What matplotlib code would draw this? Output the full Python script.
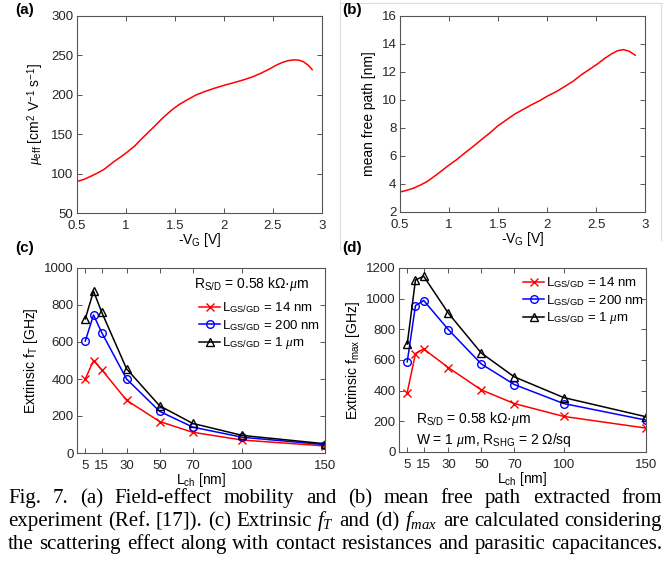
import numpy as np
import matplotlib
matplotlib.use("Agg")
import matplotlib.pyplot as plt
from matplotlib.lines import Line2D

# Fig. 7 recreation: mobility / mean free path (top), fT / fmax vs Lch (bottom)

plt.rcParams['font.family'] = ['Liberation Sans', 'DejaVu Sans']
plt.rcParams['mathtext.fontset'] = 'custom'
plt.rcParams['mathtext.rm'] = 'Liberation Sans'
plt.rcParams['mathtext.sf'] = 'Liberation Sans'
plt.rcParams['mathtext.it'] = 'Liberation Serif:italic'

# (a) field-effect mobility
vg_a = [0.5, 0.57, 0.64, 0.71, 0.78, 0.88, 0.95, 1.02, 1.09, 1.15, 1.22, 1.29,
        1.37, 1.46, 1.54, 1.63, 1.71, 1.8, 1.9, 2.0, 2.1, 2.2, 2.29, 2.37,
        2.46, 2.54, 2.6, 2.66, 2.72, 2.77, 2.81, 2.86, 2.9]
mu_eff = [90, 92.6, 96.5, 100.8, 105.7, 115.5, 121.5, 128, 135.2, 143, 151.5, 160,
          170, 180, 187.5, 194, 199.5, 204, 208.2, 212, 215.4, 219, 222.7, 227,
          232.5, 238, 241.3, 243.5, 244.4, 243.8, 242, 237.5, 232]

# (b) mean free path
vg_b = [0.5, 0.57, 0.64, 0.71, 0.78, 0.88, 0.99, 1.08, 1.16, 1.25, 1.33, 1.42,
        1.5, 1.59, 1.67, 1.76, 1.84, 1.93, 2.01, 2.1, 2.18, 2.27, 2.35, 2.44,
        2.52, 2.59, 2.66, 2.72, 2.78, 2.84, 2.9]
mfp = [3.43, 3.55, 3.71, 3.93, 4.19, 4.7, 5.3, 5.75, 6.21, 6.7, 7.16, 7.67,
       8.16, 8.6, 8.99, 9.34, 9.65, 9.97, 10.3, 10.62, 10.96, 11.36, 11.8, 12.22,
       12.6, 12.98, 13.3, 13.52, 13.6, 13.48, 13.2]

# (c), (d) channel length sweep
Lch = [5, 10, 15, 30, 50, 70, 100, 150]
ft_14nm = [400, 500, 450, 285, 170, 112, 70, 38]
ft_200nm = [605, 746, 650, 400, 225, 140, 85, 45]
ft_1um = [725, 875, 760, 455, 255, 160, 95, 50]
fmax_14nm = [388, 642, 672, 550, 405, 316, 232, 156]
fmax_200nm = [588, 955, 988, 798, 574, 440, 316, 208]
fmax_1um = [704, 1122, 1146, 905, 645, 490, 355, 230]
lch_ticks = [5, 15, 30, 50, 70, 100, 150]

series_names = [r'L$_{\mathrm{GS/GD}}$ = 14 nm',
                r'L$_{\mathrm{GS/GD}}$ = 200 nm',
                r'L$_{\mathrm{GS/GD}}$ = 1 $\mu$m']

caption_lines = [
    "Fig. 7. (a) Field-effect mobility and (b) mean free path extracted from",
    "experiment (Ref. [17]). (c) Extrinsic $f_T$ and (d) $f_{max}$ are calculated considering",
    "the scattering effect along with contact resistances and parasitic capacitances.",
]

W, H = 667, 565
fig = plt.figure(figsize=(W / 100, H / 100), dpi=100)


def px_axes(l, t, r, b):
    return fig.add_axes([l / W, 1 - b / H, (r - l) / W, (b - t) / H])


def matlab_style(ax):
    for s in ax.spines.values():
        s.set_color('#555555')
        s.set_linewidth(0.8)
    ax.tick_params(direction='in', length=3.5, width=0.7, color='#555555',
                   top=True, right=True, labelsize=9.5, labelcolor='#262626')
    ax.tick_params(axis='x', pad=5)
    ax.tick_params(axis='y', pad=2.5)


ax_a = px_axes(77, 16, 322, 213)
ax_b = px_axes(400, 16, 645, 212)
ax_c = px_axes(77, 268, 325, 453)
ax_d = px_axes(399, 268, 646, 452)

red, blue, black = '#ff0000', '#0000ff', '#000000'

ax_a.plot(vg_a, mu_eff, color=red, lw=1.1)
ax_a.set_xlim(0.5, 3)
ax_a.set_ylim(50, 300)
ax_a.set_xticks([0.5, 1, 1.5, 2, 2.5, 3])
ax_a.set_xticklabels(['0.5', '1', '1.5', '2', '2.5', '3'])
ax_a.set_ylabel(r'$\mu_{\mathrm{eff}}$ [cm$^2$ V$^{-1}$ s$^{-1}$]', fontsize=10, labelpad=4)
ax_a.set_xlabel(r'-V$_{\mathrm{G}}$ [V]', fontsize=10, labelpad=-1)

ax_b.plot(vg_b, mfp, color=red, lw=1.1)
ax_b.set_xlim(0.5, 3)
ax_b.set_ylim(2, 16)
ax_b.set_xticks([0.5, 1, 1.5, 2, 2.5, 3])
ax_b.set_xticklabels(['0.5', '1', '1.5', '2', '2.5', '3'])
ax_b.set_yticks(range(2, 17, 2))
ax_b.set_ylabel('mean free path [nm]', fontsize=10, labelpad=4)
ax_b.set_xlabel(r'-V$_{\mathrm{G}}$ [V]', fontsize=10, labelpad=-1)


def sweep(ax, ys):
    styles = [(red, 'x'), (blue, 'o'), (black, '^')]
    for y, (c, m) in zip(ys, styles):
        ax.plot(Lch, y, color=c, marker=m, mfc='none', mec=c, ms=5.5, mew=1.0, lw=1.1)
    ax.set_xlim(0, 150)
    ax.set_xticks(lch_ticks)
    ax.set_xlabel(r'L$_{\mathrm{ch}}$ [nm]', fontsize=10, labelpad=-1)


sweep(ax_c, [ft_14nm, ft_200nm, ft_1um])
ax_c.set_ylim(0, 1000)
ax_c.set_yticks(range(0, 1001, 200))
ax_c.set_ylabel(r'Extrinsic f$_{\mathrm{T}}$ [GHz]', fontsize=10, labelpad=3)

sweep(ax_d, [fmax_14nm, fmax_200nm, fmax_1um])
ax_d.set_ylim(0, 1200)
ax_d.set_yticks(range(0, 1201, 200))
ax_d.set_ylabel(r'Extrinsic f$_{\mathrm{max}}$ [GHz]', fontsize=10, labelpad=3)

handles = [Line2D([], [], color=red, marker='x', ms=5.5, mew=1.0, lw=1.1),
           Line2D([], [], color=blue, marker='o', mfc='none', ms=5.5, mew=1.0, lw=1.1),
           Line2D([], [], color=black, marker='^', mfc='none', ms=5.5, mew=1.0, lw=1.1)]

leg_kw = dict(frameon=False, fontsize=9.5, handlelength=1.6, handletextpad=0.1,
              labelspacing=0.2, borderpad=0.2, loc='upper left')
rsd = r'R$_{\mathrm{S/D}}$ = 0.58 k' + '\u03a9\u00b7' + r'$\mu$m'

ax_c.text(0.47, 0.915, rsd, transform=ax_c.transAxes, fontsize=10, va='center', ha='left')
ax_c.legend(handles, series_names, bbox_to_anchor=(0.455, 0.875), **leg_kw)

ax_d.legend(handles, series_names, bbox_to_anchor=(0.465, 1.01), **leg_kw)
ax_d.text(0.07, 0.18, rsd, transform=ax_d.transAxes, fontsize=10, va='center', ha='left')
ax_d.text(0.07, 0.065, r'W = 1 $\mu$m, R$_{\mathrm{SHG}}$ = 2 ' + '\u03a9/sq',
          transform=ax_d.transAxes, fontsize=10, va='center', ha='left')

for ax in (ax_a, ax_b, ax_c, ax_d):
    matlab_style(ax)

# panel letters
for lab, x, y in [('(a)', 15, 10), ('(b)', 342, 10), ('(c)', 15, 248), ('(d)', 342, 248)]:
    fig.text(x / W, 1 - y / H, lab, fontsize=11, fontweight='bold', va='center', ha='left')

# faint screenshot borders
for (x0, y0, x1, y1) in [(340, 0, 340, 250), (340, 3, 662, 3), (661, 3, 661, 240)]:
    fig.add_artist(Line2D([x0 / W, x1 / W], [1 - y0 / H, 1 - y1 / H],
                          color='#dddddd', lw=0.8, transform=fig.transFigure))

# justified caption
renderer = fig.canvas.get_renderer()
left_px, right_px = 8, 662
baselines = [503, 526, 549]
min_gap = 3.5
cap_size = 15.0
cap_family = ['Liberation Serif', 'DejaVu Serif']

# shrink the font until every line fits with a minimal word gap
while True:
    fits = True
    for line in caption_lines:
        words = line.split(' ')
        ws = [fig.text(0, 0, w, family=cap_family, fontsize=cap_size) for w in words]
        total = sum(t.get_window_extent(renderer).width for t in ws) + min_gap * (len(words) - 1)
        for t in ws:
            t.remove()
        if total > right_px - left_px:
            fits = False
    if fits:
        break
    cap_size -= 0.25

for line, yb in zip(caption_lines, baselines):
    words = line.split(' ')
    texts = [fig.text(0, 1 - yb / H, w, va='baseline', ha='left',
                      family=cap_family, fontsize=cap_size) for w in words]
    widths = [t.get_window_extent(renderer).width for t in texts]
    gap = (right_px - left_px - sum(widths)) / (len(words) - 1)
    x = left_px
    for t, w in zip(texts, widths):
        t.set_x(x / W)
        x += w + gap

fig.savefig('out.png', dpi=100)
